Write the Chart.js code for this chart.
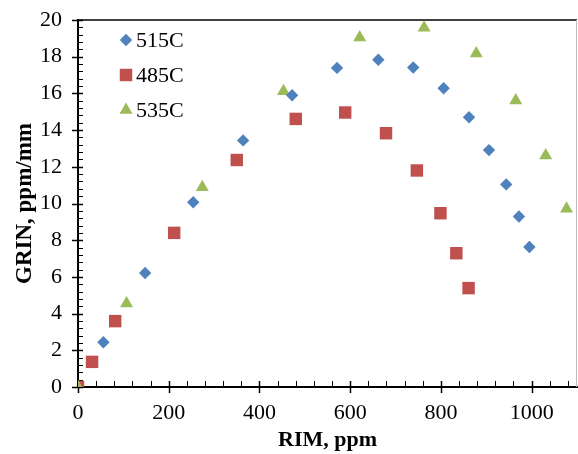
<!DOCTYPE html>
<html>
<head>
<meta charset="utf-8">
<script src="https://cdn.jsdelivr.net/npm/chart.js@4.4.0/dist/chart.umd.min.js"></script>
<style>
  html, body { margin: 0; padding: 0; background: #fff; }
  #wrap { width: 578px; height: 454px; position: relative; }
</style>
</head>
<body>
<div id="wrap"><canvas id="chart"></canvas></div>
<script>
// values
const rim515 = [56, 148, 254, 364, 472, 571, 662, 739, 806, 862, 906, 944, 972, 995];
const grin515 = [2.44, 6.21, 10.07, 13.44, 15.9, 17.39, 17.83, 17.41, 16.28, 14.7, 12.91, 11.04, 9.29, 7.63];
const rim485 = [0, 31, 82, 212, 350, 480, 589, 679, 747, 799, 834, 861];
const grin485 = [0, 1.37, 3.59, 8.4, 12.37, 14.61, 14.96, 13.83, 11.8, 9.47, 7.29, 5.39];
const rim535 = [0, 107, 274, 453, 621, 763, 878, 965, 1031, 1077];
const grin535 = [0, 4.55, 10.89, 16.12, 19.05, 19.58, 18.18, 15.61, 12.62, 9.71];
const seriesLabels = ["515C", "485C", "535C"];

const xMax = 1100, yMax = 20;
const xStep = 200, xMinor = 40, yStep = 2, yMinor = 0.4;

const toPoints = (xs, ys) => xs.map((x, i) => ({ x: x, y: ys[i] }));

Chart.defaults.font.family = '"Liberation Serif", "Times New Roman", serif';
Chart.defaults.color = "#000";

// excel style tick marks: major ones cross the axis, minor ones point inside
function drawFrameAndTicks(chart) {
  const ctx = chart.ctx;
  const x = chart.scales.x, y = chart.scales.y, a = chart.chartArea;
  ctx.save();
  ctx.lineWidth = 2;
  ctx.strokeStyle = "#404040";
  ctx.beginPath();
  ctx.moveTo(a.left, a.top);
  ctx.lineTo(a.right, a.top);
  ctx.stroke();
  ctx.lineWidth = 1;
  ctx.strokeStyle = "#bdbdbd";
  ctx.beginPath();
  ctx.moveTo(a.right - 0.5, a.top);
  ctx.lineTo(a.right - 0.5, a.bottom);
  ctx.stroke();

  ctx.strokeStyle = "#000";
  const nx = Math.floor(xMax / xMinor);
  for (let i = 0; i <= nx; i++) {
    const v = i * xMinor;
    const px = Math.round(x.getPixelForValue(v)) + 0.5;
    const major = v % xStep === 0;
    ctx.lineWidth = major ? 1.5 : 1;
    ctx.beginPath();
    ctx.moveTo(px, a.bottom - 6);
    ctx.lineTo(px, major ? a.bottom + 6 : a.bottom);
    ctx.stroke();
  }
  const ny = Math.round(yMax / yMinor);
  for (let i = 0; i <= ny; i++) {
    const py = Math.round(y.getPixelForValue(i * yMinor)) + 0.5;
    const major = i % 5 === 0;
    ctx.lineWidth = major ? 1.5 : 1;
    ctx.beginPath();
    ctx.moveTo(major ? a.left - 6 : a.left, py);
    ctx.lineTo(a.left + 5, py);
    ctx.stroke();
  }
  ctx.restore();
}

const axisTicks = {
  id: "axisTicks",
  beforeDatasetsDraw(chart) {
    drawFrameAndTicks(chart);
  }
};

// legend sits inside the plot, top left
const innerLegend = {
  id: "innerLegend",
  afterDatasetsDraw(chart) {
    const { ctx } = chart;
    ctx.save();
    ctx.font = '22px "Liberation Serif", "Times New Roman", serif';
    ctx.textBaseline = "middle";
    chart.data.datasets.forEach((ds, i) => {
      const cy = 40 + i * 35;
      ctx.fillStyle = ds.backgroundColor;
      Chart.helpers.drawPoint(ctx, {
        pointStyle: ds.pointStyle,
        radius: ds.pointRadius,
        rotation: 0,
        borderWidth: 0
      }, 126, cy);
      ctx.fillStyle = "#000";
      ctx.fillText(ds.label, 136, cy + 1);
    });
    ctx.restore();
  }
};

new Chart(document.getElementById("chart"), {
  type: "scatter",
  data: {
    datasets: [
      {
        label: seriesLabels[0],
        data: toPoints(rim515, grin515),
        pointStyle: "rectRot",
        pointRadius: 6.2,
        backgroundColor: "#4F81BD",
        borderColor: "#4F81BD",
        borderWidth: 0,
        order: 0
      },
      {
        label: seriesLabels[1],
        data: toPoints(rim485, grin485),
        pointStyle: "rect",
        pointRadius: 8.8,
        backgroundColor: "#C0504D",
        borderColor: "#C0504D",
        borderWidth: 0,
        order: 2
      },
      {
        label: seriesLabels[2],
        data: toPoints(rim535, grin535),
        pointStyle: "triangle",
        pointRadius: 7.5,
        backgroundColor: "#9BBB59",
        borderColor: "#9BBB59",
        borderWidth: 0,
        order: 1
      }
    ]
  },
  options: {
    responsive: true,
    maintainAspectRatio: false,
    animation: false,
    layout: { autoPadding: false, padding: { top: 20, right: 1, left: 0, bottom: 0 } },
    plugins: {
      legend: { display: false },
      tooltip: { enabled: false }
    },
    scales: {
      x: {
        type: "linear",
        min: 0,
        max: xMax,
        ticks: {
          stepSize: xStep,
          includeBounds: false,
          font: { size: 22 },
          padding: 13,
          maxRotation: 0,
          callback: v => String(v)
        },
        grid: { display: false, drawTicks: false },
        border: { color: "#000", width: 2 },
        title: { display: true, text: "RIM, ppm", font: { size: 22, weight: "bold" }, padding: 0 },
        afterFit(s) {
          s.height = 67;
          s.paddingLeft = 0;
          s.paddingRight = 0;
        }
      },
      y: {
        type: "linear",
        min: 0,
        max: yMax,
        ticks: { stepSize: yStep, font: { size: 22 }, padding: 16, callback: v => String(v) },
        grid: { display: false, drawTicks: false },
        border: { color: "#000", width: 2 },
        title: { display: true, text: "GRIN, ppm/mm", font: { size: 23, weight: "bold" }, padding: { top: 11, bottom: 0 } },
        afterFit(s) {
          s.width = 78;
          s.paddingTop = 0;
          s.paddingBottom = 0;
        }
      }
    }
  },
  plugins: [axisTicks, innerLegend]
});
</script>
</body>
</html>
